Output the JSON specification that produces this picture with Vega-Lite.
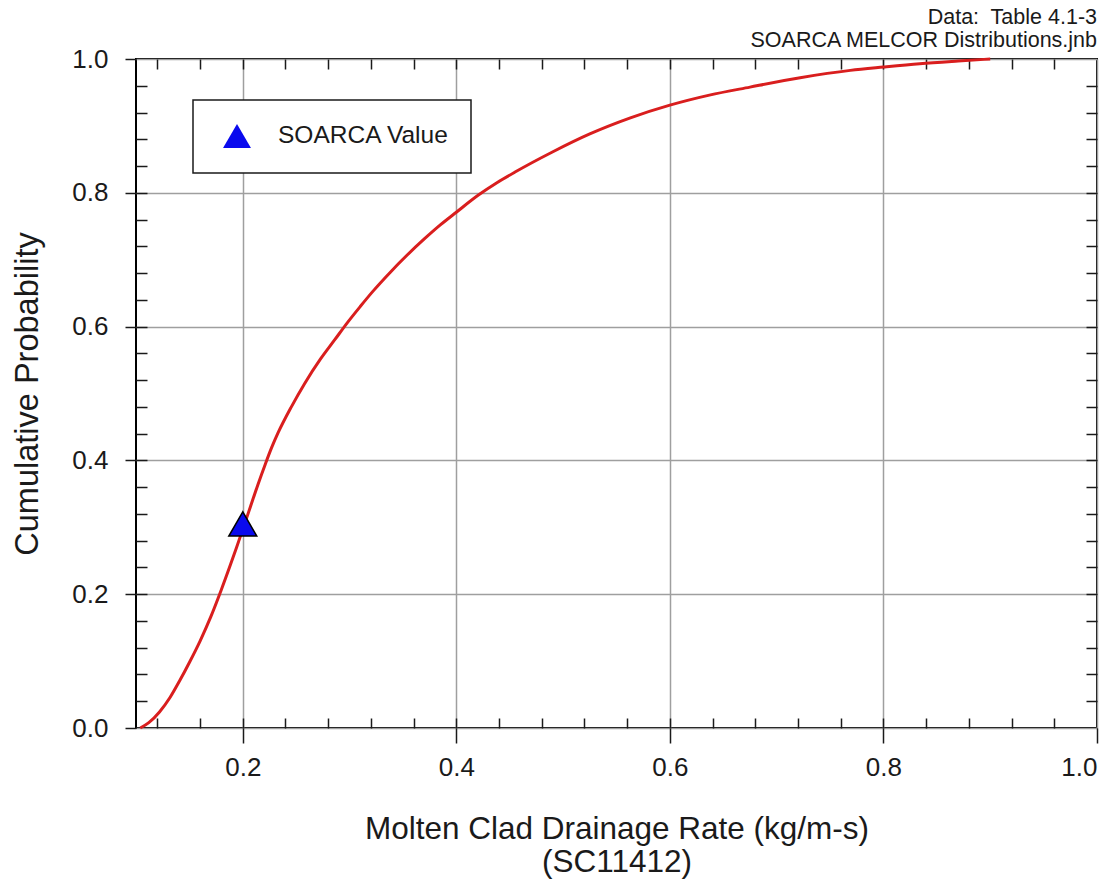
{
  "$schema": "https://vega.github.io/schema/vega-lite/v6.json",
  "width": 961,
  "height": 669,
  "autosize": {"type": "none"},
  "padding": {"left": 136, "top": 59, "right": 21, "bottom": 152},
  "background": "white",
  "config": {
    "font": "Liberation Sans",
    "view": {"stroke": "black", "strokeWidth": 2},
    "axis": {"domain": false, "labelFont": "Liberation Sans", "titleFont": "Liberation Sans", "labelColor": "#1a1a1a", "titleColor": "#1a1a1a", "tickColor": "#1a1a1a", "titleFontWeight": "normal"},
    "legend": {"strokeWidth": 1.5}
  },
  "title": {
    "text": ["Data:\u00a0 Table 4.1-3", "SOARCA MELCOR Distributions.jnb"],
    "anchor": "end",
    "frame": "group",
    "fontSize": 21.5,
    "fontWeight": "normal",
    "font": "Liberation Sans",
    "color": "#1a1a1a",
    "lineHeight": 23,
    "offset": -5
  },
  "datasets": {
    "cdf": [
      {"x": 0.104, "p": 0.0},
      {"x": 0.112, "p": 0.008},
      {"x": 0.122, "p": 0.024},
      {"x": 0.132, "p": 0.046},
      {"x": 0.141, "p": 0.071},
      {"x": 0.150, "p": 0.098},
      {"x": 0.160, "p": 0.130},
      {"x": 0.170, "p": 0.166},
      {"x": 0.180, "p": 0.207},
      {"x": 0.188, "p": 0.242},
      {"x": 0.194, "p": 0.269},
      {"x": 0.200, "p": 0.297},
      {"x": 0.207, "p": 0.330},
      {"x": 0.214, "p": 0.363},
      {"x": 0.221, "p": 0.394},
      {"x": 0.227, "p": 0.419},
      {"x": 0.233, "p": 0.441},
      {"x": 0.2455, "p": 0.480},
      {"x": 0.258, "p": 0.515},
      {"x": 0.273, "p": 0.552},
      {"x": 0.286, "p": 0.580},
      {"x": 0.298, "p": 0.606},
      {"x": 0.310, "p": 0.630},
      {"x": 0.322, "p": 0.653},
      {"x": 0.338, "p": 0.681},
      {"x": 0.354, "p": 0.707},
      {"x": 0.370, "p": 0.731},
      {"x": 0.385, "p": 0.752},
      {"x": 0.400, "p": 0.771},
      {"x": 0.421, "p": 0.797},
      {"x": 0.438, "p": 0.815},
      {"x": 0.455, "p": 0.831},
      {"x": 0.490, "p": 0.861},
      {"x": 0.525, "p": 0.888},
      {"x": 0.563, "p": 0.912},
      {"x": 0.600, "p": 0.931},
      {"x": 0.637, "p": 0.946},
      {"x": 0.675, "p": 0.958},
      {"x": 0.722, "p": 0.972},
      {"x": 0.769, "p": 0.983},
      {"x": 0.800, "p": 0.988},
      {"x": 0.834, "p": 0.993},
      {"x": 0.870, "p": 0.997},
      {"x": 0.900, "p": 1.0}
    ],
    "soarca": [
      {"x": 0.2, "p": 0.305, "series": "SOARCA Value"}
    ]
  },
  "layer": [
    {
      "data": {"name": "cdf"},
      "mark": {"type": "line", "color": "#d91e1e", "strokeWidth": 3, "interpolate": "monotone"},
      "encoding": {
        "x": {
          "field": "x", "type": "quantitative",
          "scale": {"domain": [0.1, 1.0], "nice": false, "zero": false},
          "axis": {
            "orient": "bottom",
            "values": [0.2, 0.4, 0.6, 0.8, 1.0],
            "format": ".1f",
            "grid": true, "gridColor": "#9f9f9f", "gridWidth": 1.5,
            "tickSize": 15, "tickWidth": 1.5,
            "labelFontSize": 26, "labelPadding": 11,
            "title": ["Molten Clad Drainage Rate (kg/m-s)", "(SC11412)"],
            "titleFontSize": 31.5, "titlePadding": 33, "titleLineHeight": 33
          }
        },
        "y": {
          "field": "p", "type": "quantitative",
          "scale": {"domain": [0, 1], "nice": false},
          "axis": {
            "orient": "left",
            "values": [0, 0.2, 0.4, 0.6, 0.8, 1.0],
            "format": ".1f",
            "grid": true, "gridColor": "#9f9f9f", "gridWidth": 1.5,
            "tickSize": 11, "tickWidth": 1.5,
            "labelFontSize": 26, "labelPadding": 17,
            "title": "Cumulative Probability",
            "titleFontSize": 32.5, "titlePadding": 27
          }
        }
      }
    },
    {
      "data": {"name": "cdf"},
      "mark": {"type": "line", "opacity": 0},
      "encoding": {
        "x": {
          "field": "x", "type": "quantitative",
          "scale": {"domain": [0.1, 1.0], "nice": false, "zero": false},
          "axis": {
            "orient": "bottom",
            "values": [0.12, 0.16, 0.2, 0.24, 0.28, 0.32, 0.36, 0.4, 0.44, 0.48, 0.52, 0.56, 0.6, 0.64, 0.68, 0.72, 0.76, 0.8, 0.84, 0.88, 0.92, 0.96],
            "grid": false, "labels": false, "title": null,
            "tickSize": -10, "tickWidth": 1.5
          }
        },
        "y": {
          "field": "p", "type": "quantitative",
          "scale": {"domain": [0, 1], "nice": false},
          "axis": {
            "orient": "left",
            "values": [0.04, 0.08, 0.12, 0.16, 0.2, 0.24, 0.28, 0.32, 0.36, 0.4, 0.44, 0.48, 0.52, 0.56, 0.6, 0.64, 0.68, 0.72, 0.76, 0.8, 0.84, 0.88, 0.92, 0.96],
            "grid": false, "labels": false, "title": null,
            "tickSize": -11, "tickWidth": 1.5
          }
        }
      }
    },
    {
      "data": {"name": "soarca"},
      "mark": {"type": "point", "filled": true, "fill": "#0a0aee", "stroke": "#000000", "strokeWidth": 1.5, "size": 780, "opacity": 1},
      "encoding": {
        "x": {
          "field": "x", "type": "quantitative",
          "scale": {"domain": [0.1, 1.0], "nice": false, "zero": false},
          "axis": {
            "orient": "top",
            "values": [0.12, 0.16, 0.2, 0.24, 0.28, 0.32, 0.36, 0.4, 0.44, 0.48, 0.52, 0.56, 0.6, 0.64, 0.68, 0.72, 0.76, 0.8, 0.84, 0.88, 0.92, 0.96],
            "grid": false, "labels": false, "title": null,
            "tickSize": -10, "tickWidth": 1.5
          }
        },
        "y": {
          "field": "p", "type": "quantitative",
          "scale": {"domain": [0, 1], "nice": false},
          "axis": {
            "orient": "right",
            "values": [0.04, 0.08, 0.12, 0.16, 0.2, 0.24, 0.28, 0.32, 0.36, 0.4, 0.44, 0.48, 0.52, 0.56, 0.6, 0.64, 0.68, 0.72, 0.76, 0.8, 0.84, 0.88, 0.92, 0.96],
            "grid": false, "labels": false, "title": null,
            "tickSize": -11, "tickWidth": 1.5
          }
        },
        "shape": {
          "field": "series", "type": "nominal",
          "scale": {"range": ["triangle-up"]},
          "legend": {
            "title": null,
            "orient": "none",
            "legendX": 57,
            "legendY": 41,
            "strokeColor": "#1a1a1a",
            "fillColor": "white",
            "padding": 21,
            "symbolSize": 780,
            "symbolFillColor": "#0a0aee",
            "symbolStrokeColor": "#000000",
            "symbolStrokeWidth": 1.5,
            "symbolOffset": 8,
            "labelOffset": 26,
            "labelFontSize": 24.5,
            "labelFont": "Liberation Sans",
            "labelColor": "#1a1a1a",
            "labelLimit": 400
          }
        }
      }
    }
  ],
  "resolve": {"axis": {"x": "independent", "y": "independent"}}
}
